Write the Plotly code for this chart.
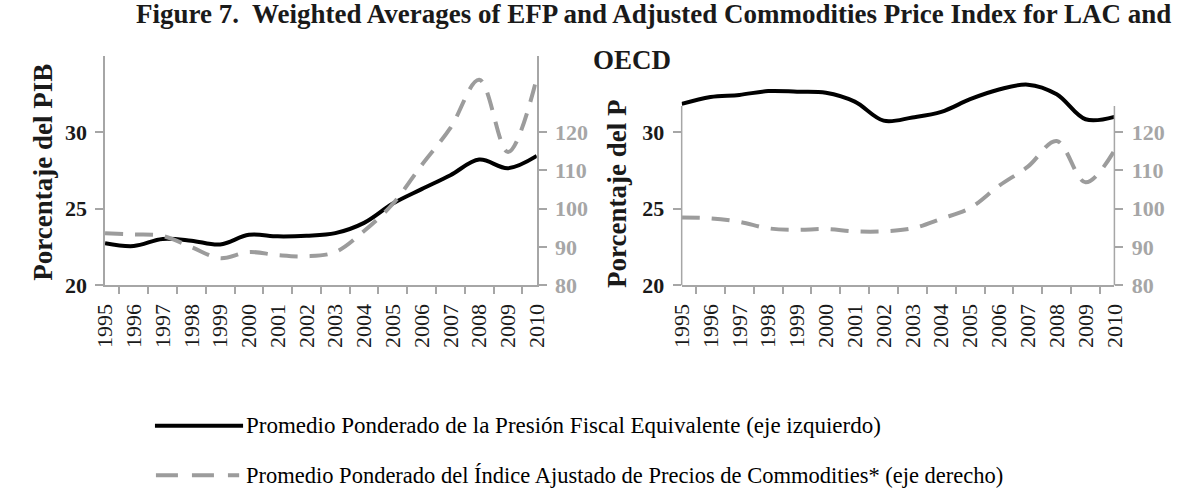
import plotly.graph_objects as go

years = ["1995", "1996", "1997", "1998", "1999", "2000", "2001", "2002",
         "2003", "2004", "2005", "2006", "2007", "2008", "2009", "2010"]

# LAC panel
lac_efp = [22.75, 22.57, 23.03, 22.92, 22.67, 23.30, 23.20, 23.24,
           23.41, 24.08, 25.34, 26.28, 27.19, 28.21, 27.65, 28.45]
lac_cpi = [93.6, 93.3, 92.9, 90.0, 87.1, 88.7, 87.9, 87.6,
           88.7, 94.2, 101.3, 111.4, 121.1, 133.7, 114.8, 134.1]

# OECD panel
oecd_efp = [31.84, 32.30, 32.43, 32.68, 32.64, 32.57, 31.99, 30.75,
            30.96, 31.32, 32.15, 32.78, 33.10, 32.47, 30.84, 31.00]
oecd_cpi = [97.7, 97.5, 96.6, 94.9, 94.5, 94.7, 94.1, 94.1,
            94.9, 97.4, 100.2, 106.0, 111.0, 117.7, 106.9, 115.2]

left_ticks = [20, 25, 30]
right_ticks = [80, 90, 100, 110, 120]

title_line1 = "Figure 7.  Weighted Averages of EFP and Adjusted Commodities Price Index for LAC and"
title_line2 = "OECD"
ytitle_lac = "Porcentaje del PIB"
ytitle_oecd = "Porcentaje del P"
legend_efp = "Promedio Ponderado de la Presión Fiscal Equivalente (eje izquierdo)"
legend_cpi = "Promedio Ponderado del Índice Ajustado de Precios de Commodities* (eje derecho)"

W, H = 1192, 501
FONT = "Liberation Serif, Times New Roman, serif"
AXIS_GREY = "#a6a6a6"
DASH_GREY = "#9c9c9c"

def px(x):
    return x / W

def py(y):
    return (H - y) / H

ydom = [py(293), py(57)]
xdom1 = [px(94), px(535)]
xdom2 = [px(683), px(1125)]

fig = go.Figure()

solid = dict(color="black", width=4, shape="spline", smoothing=1)
dashed = dict(color=DASH_GREY, width=4, dash="18px,12px", shape="spline", smoothing=1)

fig.add_trace(go.Scatter(x=years, y=lac_efp, mode="lines", line=solid,
                         xaxis="x", yaxis="y", showlegend=False, name=legend_efp))
fig.add_trace(go.Scatter(x=years, y=lac_cpi, mode="lines", line=dashed,
                         xaxis="x", yaxis="y2", showlegend=False, name=legend_cpi))
fig.add_trace(go.Scatter(x=years, y=oecd_efp, mode="lines", line=solid,
                         xaxis="x2", yaxis="y3", showlegend=False, name=legend_efp))
fig.add_trace(go.Scatter(x=years, y=oecd_cpi, mode="lines", line=dashed,
                         xaxis="x2", yaxis="y4", showlegend=False, name=legend_cpi))

xcommon = dict(type="category", tickson="boundaries", ticks="outside", ticklen=7,
               tickcolor=AXIS_GREY, tickwidth=1.5, showline=True, linecolor=AXIS_GREY,
               linewidth=1.5, showgrid=False, zeroline=False, tickangle=-90,
               ticklabelstandoff=8,
               tickfont=dict(family=FONT, size=22, color="#1a1a1a"))
yleft = dict(range=[20, 35], tickvals=left_ticks, ticks="outside", ticklen=8,
             tickcolor=AXIS_GREY, tickwidth=1.5, linecolor=AXIS_GREY, linewidth=1.5,
             showgrid=False, zeroline=False, ticklabelstandoff=4,
             tickfont=dict(family=FONT, size=22, color="#1a1a1a", weight="bold"))
yright = dict(range=[80, 140], tickvals=right_ticks, ticks="outside", ticklen=8,
              tickcolor=AXIS_GREY, tickwidth=1.5, linecolor=AXIS_GREY, linewidth=1.5,
              showgrid=False, zeroline=False, side="right", ticklabelstandoff=4,
              tickfont=dict(family=FONT, size=22, color=AXIS_GREY, weight="bold"))

fig.update_layout(
    width=W, height=H, autosize=False,
    margin=dict(l=0, r=0, t=0, b=0),
    paper_bgcolor="white", plot_bgcolor="rgba(0,0,0,0)",
    showlegend=False,
    hovermode=False,
    xaxis=dict(xcommon, domain=xdom1, anchor="y"),
    xaxis2=dict(xcommon, domain=xdom2, anchor="y3"),
    yaxis=dict(yleft, domain=ydom, anchor="x", showline=True),
    yaxis2=dict(yright, domain=ydom, anchor="x", overlaying="y", showline=True),
    yaxis3=dict(yleft, domain=ydom, anchor="x2", showline=False),
    yaxis4=dict(yright, domain=ydom, anchor="x2", overlaying="y3", showline=False),
)

# OECD panel vertical axis lines (shorter than plotting area, as in the original)
fig.add_shape(type="line", xref="x2 domain", yref="y3", x0=0, x1=0, y0=20, y1=31.7,
              line=dict(color=AXIS_GREY, width=1.5))
fig.add_shape(type="line", xref="x2 domain", yref="y4", x0=1, x1=1, y0=80, y1=126.8,
              line=dict(color=AXIS_GREY, width=1.5))

# Titles
fig.add_annotation(text=title_line1, xref="paper", yref="paper", x=px(654), y=py(14),
                   xanchor="center", yanchor="middle", showarrow=False,
                   font=dict(family=FONT, size=27, color="#1a1a1a", weight="bold"))
fig.add_annotation(text=title_line2, xref="paper", yref="paper", x=px(632), y=py(62),
                   xanchor="center", yanchor="middle", showarrow=False,
                   font=dict(family=FONT, size=27, color="#1a1a1a", weight="bold"))

# Y axis titles
fig.add_annotation(text=ytitle_lac, xref="paper", yref="paper", x=px(31), y=py(177),
                   xanchor="center", yanchor="middle", textangle=-90, showarrow=False,
                   font=dict(family=FONT, size=27, color="#1a1a1a", weight="bold"))
fig.add_annotation(text=ytitle_oecd, xref="paper", yref="paper", x=px(617), y=py(199),
                   xanchor="center", yanchor="middle", textangle=-90, showarrow=False,
                   font=dict(family=FONT, size=27, color="#1a1a1a", weight="bold"))

# Legend (drawn manually to match the long sample lines)
fig.add_shape(type="line", xref="paper", yref="paper", x0=px(145), x1=px(235),
              y0=py(437), y1=py(437), line=dict(color="black", width=4))
fig.add_shape(type="line", xref="paper", yref="paper", x0=px(146), x1=px(231),
              y0=py(488), y1=py(488), line=dict(color=DASH_GREY, width=4, dash="22px,14px"))
fig.add_annotation(text=legend_efp, xref="paper", yref="paper", x=px(236), y=py(437),
                   xanchor="left", yanchor="middle", showarrow=False,
                   font=dict(family=FONT, size=23, color="black"))
fig.add_annotation(text=legend_cpi, xref="paper", yref="paper", x=px(236), y=py(488),
                   xanchor="left", yanchor="middle", showarrow=False,
                   font=dict(family=FONT, size=22.5, color="black"))

fig.write_html("out.html", config={"displayModeBar": False},
               post_script="document.body.style.margin='0';")
